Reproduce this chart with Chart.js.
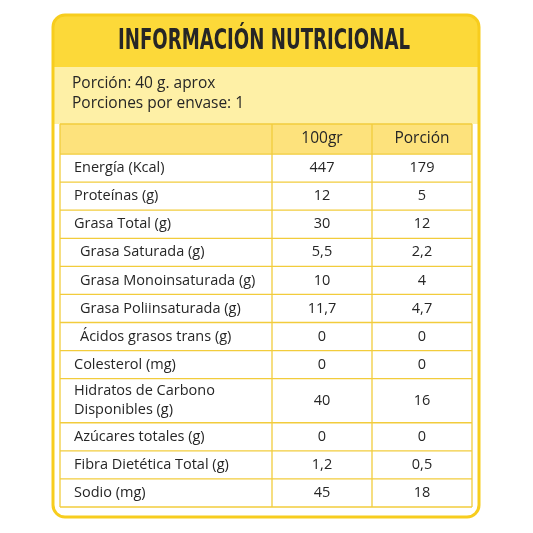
<!DOCTYPE html>
<html><head><meta charset="utf-8">
<script src="https://cdn.jsdelivr.net/npm/chart.js@4"></script>
<style>html,body{margin:0;background:#fff}</style>
</head><body>
<canvas id="c" width="533" height="533"></canvas>
<script>
const title = 'INFORMACIÓN NUTRICIONAL';
const portionLines = ['Porción: 40 g. aprox', 'Porciones por envase: 1'];
const columns = ['', '100gr', 'Porción'];
const rowLabels = ['Energía (Kcal)', 'Proteínas (g)', 'Grasa Total (g)', 'Grasa Saturada (g)',
  'Grasa Monoinsaturada (g)', 'Grasa Poliinsaturada (g)', 'Ácidos grasos trans (g)', 'Colesterol (mg)',
  'Hidratos de Carbono\nDisponibles (g)', 'Azúcares totales (g)', 'Fibra Dietética Total (g)', 'Sodio (mg)'];
const indented = [false, false, false, true, true, true, true, false, false, false, false, false];
const per100 = ['447', '12', '30', '5,5', '10', '11,7', '0', '0', '40', '0', '1,2', '45'];
const perPortion = ['179', '5', '12', '2,2', '4', '4,7', '0', '0', '16', '0', '0,5', '18'];
const rowHeights = [1, 1, 1, 1, 1, 1, 1, 1, 1.57, 1, 1, 1];
const headerHeight = 1.07;
const colWidths = [2.12, 1, 1];

const yellow = '#f7cd1e', band = '#fcd939', light = '#fef0a6', head = '#fde27c', grid = '#f2cc3c', ink = '#262626';
const bodyFont = "14.5px 'Open Sans'";

// row boundaries in scale units
const bounds = [0, headerHeight];
rowHeights.forEach(h => bounds.push(bounds[bounds.length - 1] + h));
const colBounds = [0];
colWidths.forEach(w => colBounds.push(colBounds[colBounds.length - 1] + w));
const mid = (a, i) => (a[i] + a[i + 1]) / 2;

const points = [];
rowLabels.forEach((l, i) => {
  points.push({x: mid(colBounds, 1), y: mid(bounds, i + 1), t: per100[i]});
  points.push({x: mid(colBounds, 2), y: mid(bounds, i + 1), t: perPortion[i]});
});
columns.forEach((c, j) => { if (c) points.push({x: mid(colBounds, j), y: mid(bounds, 0), t: c, h: true}); });

function rr(ctx, x, y, w, h, r) {
  ctx.beginPath(); ctx.moveTo(x + r, y); ctx.arcTo(x + w, y, x + w, y + h, r);
  ctx.arcTo(x + w, y + h, x, y + h, r); ctx.arcTo(x, y + h, x, y, r); ctx.arcTo(x, y, x + w, y, r); ctx.closePath();
}

const tablePlugin = {
  id: 'table',
  beforeDraw(chart) {
    const ctx = chart.ctx, xs = chart.scales.x, ys = chart.scales.y;
    ctx.save();
    rr(ctx, 53, 15, 426, 502, 12); ctx.fillStyle = '#fff'; ctx.fill();
    ctx.save(); rr(ctx, 53, 15, 426, 502, 12); ctx.clip();
    ctx.fillStyle = band; ctx.fillRect(53, 15, 426, 52);
    ctx.fillStyle = light; ctx.fillRect(53, 67, 426, 57);
    ctx.restore();
    ctx.strokeStyle = yellow; ctx.lineWidth = 3; rr(ctx, 53, 15, 426, 502, 12); ctx.stroke();
    // title
    ctx.fillStyle = ink; ctx.font = "bold 27px 'DejaVu Sans Condensed'";
    ctx.textBaseline = 'middle'; ctx.textAlign = 'left';
    const w = ctx.measureText(title).width;
    ctx.save(); ctx.translate(118, 42); ctx.scale(292 / w, 1.05); ctx.fillText(title, 0, 0); ctx.restore();
    ctx.font = "15.5px 'Open Sans'";
    portionLines.forEach((t, i) => ctx.fillText(t, 72, 84 + i * 20));
    // header row
    const L = xs.getPixelForValue(0), R = xs.getPixelForValue(colBounds[3]);
    ctx.fillStyle = head;
    ctx.fillRect(L, ys.getPixelForValue(0), R - L, ys.getPixelForValue(headerHeight) - ys.getPixelForValue(0));
    // grid
    ctx.strokeStyle = grid; ctx.lineWidth = 1.3;
    bounds.forEach(b => { const y = ys.getPixelForValue(b); ctx.beginPath(); ctx.moveTo(L, y); ctx.lineTo(R, y); ctx.stroke(); });
    colBounds.forEach(b => { const x = xs.getPixelForValue(b); ctx.beginPath();
      ctx.moveTo(x, ys.getPixelForValue(0)); ctx.lineTo(x, ys.getPixelForValue(bounds[bounds.length - 1])); ctx.stroke(); });
    // row labels
    ctx.fillStyle = ink; ctx.font = bodyFont; ctx.textAlign = 'left';
    rowLabels.forEach((l, i) => {
      const lines = l.split('\n'), yc = ys.getPixelForValue(mid(bounds, i + 1));
      const x = xs.getPixelForValue(0) + (indented[i] ? 20 : 14);
      lines.forEach((s, k) => ctx.fillText(s, x, yc + (k - (lines.length - 1) / 2) * 19));
    });
    ctx.restore();
  },
  afterDatasetsDraw(chart) {
    const ctx = chart.ctx, meta = chart.getDatasetMeta(0);
    ctx.save(); ctx.fillStyle = ink; ctx.textAlign = 'center'; ctx.textBaseline = 'middle';
    meta.data.forEach((el, i) => {
      ctx.font = points[i].h ? "15.5px 'Open Sans'" : bodyFont;
      ctx.fillText(points[i].t, el.x, el.y);
    });
    ctx.restore();
  }
};

new Chart(document.getElementById('c'), {
  type: 'scatter',
  data: {datasets: [{data: points, pointRadius: 0}]},
  options: {
    responsive: false, animation: false, events: [],
    layout: {padding: {left: 60, right: 61, top: 124, bottom: 26}},
    plugins: {legend: {display: false}, tooltip: {enabled: false}},
    scales: {
      x: {type: 'linear', display: false, min: 0, max: colBounds[3]},
      y: {type: 'linear', display: false, reverse: true, min: 0, max: bounds[bounds.length - 1]}
    }
  },
  plugins: [tablePlugin]
});
</script>
</body></html>
